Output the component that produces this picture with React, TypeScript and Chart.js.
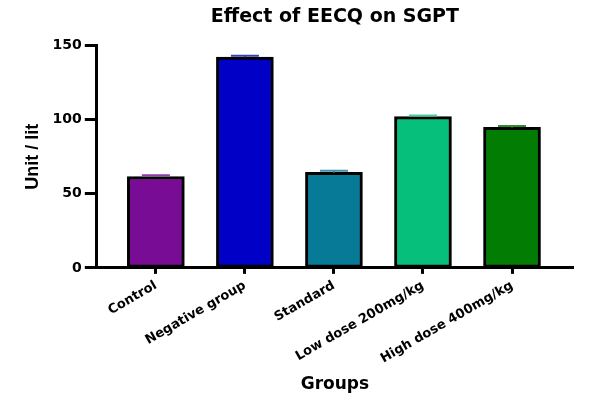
import React, { useEffect, useRef } from "react";
import { Chart, registerables } from "chart.js";

Chart.register(...registerables);

// Chart data
const groups = [
  "Control",
  "Negative group",
  "Standard",
  "Low dose 200mg/kg",
  "High dose 400mg/kg",
];
const sgpt = [61.7, 142.3, 64.5, 102.2, 94.9];
const sem = [0.8, 0.9, 1.1, 0.8, 1.0];
const yTicks = [0, 50, 100, 150];

// Colors
const fillColors = ["#780C94", "#0000C6", "#077A97", "#06BF7B", "#027C02"];
const capColors = ["#8E3CA6", "#3B3BB4", "#3D92AA", "#4CCB98", "#2E8E2E"];

const font = "'DejaVu Sans', 'Liberation Sans', Arial, sans-serif";

// draws the small SEM caps above each bar
const errorBars = {
  id: "errorBars",
  afterDatasetsDraw(chart: any) {
    const { ctx } = chart;
    const meta = chart.getDatasetMeta(0);
    const yScale = chart.scales.y;
    ctx.save();
    ctx.lineWidth = 2;
    meta.data.forEach((bar: any, i: number) => {
      const top = yScale.getPixelForValue(sgpt[i] + sem[i]);
      const base = yScale.getPixelForValue(sgpt[i]);
      const half = 14;
      ctx.strokeStyle = capColors[i];
      ctx.beginPath();
      ctx.moveTo(bar.x - half, top);
      ctx.lineTo(bar.x + half, top);
      ctx.moveTo(bar.x, top);
      ctx.lineTo(bar.x, base);
      ctx.stroke();
    });
    ctx.restore();
  },
};

const App: React.FC = () => {
  const chartRef = useRef<HTMLCanvasElement>(null);

  useEffect(() => {
    if (!chartRef.current) return;
    document.body.style.margin = "0";

    const myChart = new Chart(chartRef.current, {
      type: "bar",
      data: {
        datasets: [
          {
            label: "SGPT",
            data: sgpt.map((v, i) => ({ x: i, y: v })),
            backgroundColor: fillColors,
            borderColor: "#000",
            borderWidth: 3,
            borderSkipped: false,
            barThickness: 57,
          },
        ],
      },
      options: {
        animation: false,
        responsive: true,
        maintainAspectRatio: false,
        layout: { padding: { left: 22, right: 30, top: 0, bottom: 3 } },
        plugins: {
          legend: { display: false },
          tooltip: { enabled: false },
          title: {
            display: true,
            text: "Effect of EECQ on SGPT",
            fullSize: false,
            color: "#000",
            font: { family: font, size: 19, weight: "bold" },
            padding: { top: 6, bottom: 17 },
          },
        },
        scales: {
          x: {
            type: "linear",
            offset: false,
            min: -0.663,
            max: 4.685,
            afterBuildTicks: (scale: any) => {
              scale.ticks = groups.map((_, i) => ({ value: i }));
            },
            ticks: {
              callback: (v: any) => groups[v],
              minRotation: 30,
              maxRotation: 30,
              padding: 4,
              color: "#000",
              font: { family: font, size: 13, weight: "bold" },
            },
            grid: {
              offset: false,
              drawOnChartArea: false,
              drawTicks: true,
              tickLength: 6,
              tickWidth: 3,
              tickColor: "#000",
            },
            border: { display: true, color: "#000", width: 3 },
            title: {
              display: true,
              text: "Groups",
              color: "#000",
              font: { family: font, size: 17, weight: "bold" },
              padding: { top: 4, bottom: 2 },
            },
          },
          y: {
            min: 0,
            max: 150,
            afterBuildTicks: (scale: any) => {
              scale.ticks = yTicks.map((v) => ({ value: v }));
            },
            ticks: {
              padding: 3,
              color: "#000",
              font: { family: font, size: 14, weight: "bold" },
            },
            grid: {
              drawOnChartArea: false,
              drawTicks: true,
              tickLength: 12,
              tickWidth: 3,
              tickColor: "#000",
            },
            border: { display: true, color: "#000", width: 3 },
            title: {
              display: true,
              text: "Unit / lit",
              color: "#000",
              font: { family: "'Liberation Sans Narrow', 'Liberation Sans', Arial, sans-serif", size: 18, weight: "bold" },
              padding: { top: 0, bottom: 6 },
            },
          },
        },
      } as any,
      plugins: [errorBars],
    });

    return () => {
      myChart.destroy();
    };
  }, []);

  return (
    <div style={{ width: "603px", height: "400px", position: "relative" }}>
      <canvas ref={chartRef}></canvas>
    </div>
  );
};

export default App;
